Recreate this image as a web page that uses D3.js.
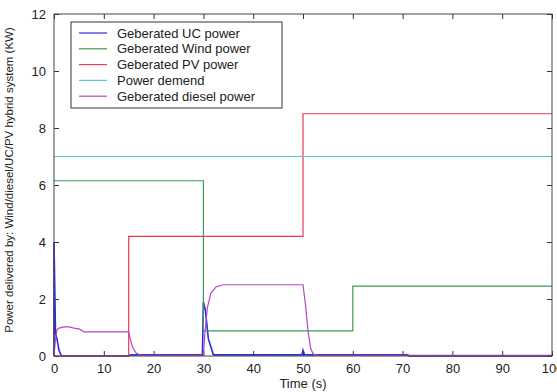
<!DOCTYPE html>
<html>
<head>
<meta charset="utf-8">
<script src="https://cdn.jsdelivr.net/npm/d3@7"></script>
<style>
  body { margin: 0; background: #fff; }
  text { font-family: "Liberation Sans", Arial, sans-serif; }
</style>
</head>
<body>
<div id="chart"></div>
<script>
// DATA
const seriesNames = ["Geberated UC power", "Geberated Wind power", "Geberated PV power", "Power demend", "Geberated diesel power"]
const seriesColors = ["#2c2cd8", "#3f9a52", "#e63a55", "#5cc4c9", "#b446c4"]

const ucTime  = [0, 0, 0.3, 0.6, 1, 1.5, 15, 15.4, 16, 29.8, 30, 30.4, 31, 32, 49.8, 50, 50.3, 71, 71.3, 100]
const ucPower = [0, 4, 0.8, 0.6, 0.2, 0, 0, 0.04, 0.04, 0.04, 1.9, 1.6, 0.6, 0.04, 0.04, 0.2, 0.04, 0.04, 0, 0]

const windTime  = [0, 30, 30, 60, 60, 100]
const windPower = [6.15, 6.15, 0.88, 0.88, 2.45, 2.45]

const pvTime  = [0, 15, 15, 50, 50, 100]
const pvPower = [0, 0, 4.2, 4.2, 8.5, 8.5]

const demandTime  = [0, 100]
const demandPower = [7, 7]

const dieselTime  = [0, 0.3, 0.6, 1, 2, 3, 4, 5, 5.5, 6, 15, 15.3, 15.8, 16.5, 17.5, 30, 30.3, 30.8, 31.5, 32.5, 34, 50, 50.5, 51, 51.5, 52, 53, 100]
const dieselPower = [0, 0.6, 0.92, 0.98, 1.02, 1.02, 0.98, 0.95, 0.9, 0.85, 0.85, 0.6, 0.3, 0.1, 0.02, 0.02, 0.8, 1.7, 2.2, 2.42, 2.5, 2.5, 1.8, 0.9, 0.3, 0.08, 0.02, 0.02]

const xTicks = [0, 10, 20, 30, 40, 50, 60, 70, 80, 90, 100]
const yTicks = [0, 2, 4, 6, 8, 10, 12]

// CONSTANTES
const width = 557
const height = 392
const margin = { left: 54, right: 5, top: 14, bottom: 36 }
const innerW = width - margin.left - margin.right
const innerH = height - margin.top - margin.bottom

const svg = d3.select("#chart").append("svg").attr("width", width).attr("height", height)
const g = svg.append("g").attr("transform", `translate(${margin.left}, ${margin.top})`)

// ESCALAS
const x = d3.scaleLinear().domain([0, 100]).range([0, innerW])
const y = d3.scaleLinear().domain([0, 12]).range([innerH, 0])

// EJES (ticks hacia dentro, estilo matlab)
const axisStyle = sel => {
  sel.select(".domain").remove()
  sel.selectAll("line").attr("stroke", "#333")
  sel.selectAll("text").attr("font-size", 13).attr("fill", "#222")
}
g.append("g").attr("transform", `translate(0, ${innerH})`)
  .call(d3.axisBottom(x).tickValues(xTicks).tickSizeInner(-5).tickSizeOuter(0).tickPadding(8))
  .call(axisStyle)
g.append("g").attr("transform", `translate(0, 0)`)
  .call(d3.axisTop(x).tickValues(xTicks).tickSizeInner(-5).tickSizeOuter(0).tickFormat(""))
  .call(axisStyle)
g.append("g")
  .call(d3.axisLeft(y).tickValues(yTicks).tickSizeInner(-5).tickSizeOuter(0).tickPadding(8))
  .call(axisStyle)
g.append("g").attr("transform", `translate(${innerW}, 0)`)
  .call(d3.axisRight(y).tickValues(yTicks).tickSizeInner(-5).tickSizeOuter(0).tickFormat(""))
  .call(axisStyle)

// LINEAS
const allSeries = [
  [ucTime, ucPower], [windTime, windPower], [pvTime, pvPower],
  [demandTime, demandPower], [dieselTime, dieselPower]
]
const line = d3.line().x(d => x(d[0])).y(d => y(d[1]))
allSeries.forEach((s, i) => {
  const pts = s[0].map((t, k) => [t, s[1][k]])
  g.append("path").datum(pts)
    .attr("d", line)
    .attr("fill", "none")
    .attr("stroke", seriesColors[i])
    .attr("stroke-width", i === 0 ? 1.6 : 1.2)
})

// CAJA
g.append("rect").attr("width", innerW).attr("height", innerH)
  .attr("fill", "none").attr("stroke", "#444").attr("stroke-width", 1)

// LEYENDA
const legend = g.append("g").attr("transform", `translate(${71 - margin.left}, ${22 - margin.top})`)
legend.append("rect").attr("width", 211).attr("height", 86)
  .attr("fill", "#fff").attr("stroke", "#333").attr("stroke-width", 1)
seriesNames.forEach((name, i) => {
  const ly = 11 + i * 15.8
  legend.append("line").attr("x1", 8).attr("x2", 36).attr("y1", ly).attr("y2", ly)
    .attr("stroke", seriesColors[i]).attr("stroke-width", 1.2)
  legend.append("text").attr("x", 46).attr("y", ly).attr("dy", "0.35em")
    .attr("font-size", 13).attr("fill", "#222").text(name)
})

// ETIQUETAS
svg.append("text").attr("x", margin.left + innerW / 2).attr("y", 388)
  .attr("text-anchor", "middle").attr("font-size", 13).attr("fill", "#222").text("Time (s)")
svg.append("text").attr("transform", `translate(13, 180) rotate(-90)`)
  .attr("text-anchor", "middle").attr("font-size", 11.5).attr("fill", "#222")
  .text("Power delivered by: Wind/diesel/UC/PV hybrid system (KW)")
</script>
</body>
</html>
